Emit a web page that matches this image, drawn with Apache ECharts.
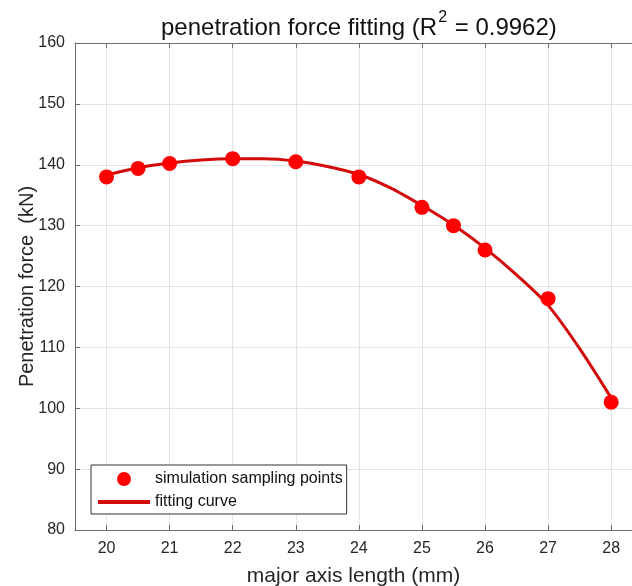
<!DOCTYPE html>
<html>
<head>
<meta charset="utf-8">
<script src="https://cdn.jsdelivr.net/npm/echarts@6/dist/echarts.min.js"></script>
<style>
    html, body { margin: 0; padding: 0; background: #fff; }
    #chart { width: 632px; height: 586px; }
</style>
</head>
<body>
<div id="chart"></div>
<script>
// simulation sampling points
const sampleX = [20, 20.5, 21, 22, 23, 24, 25, 25.5, 26, 27, 28];
const sampleY = [138, 139.4, 140.2, 141, 140.5, 138, 133, 130, 126, 118, 101];

// fitting curve
const fitX = [20, 20.5, 21, 21.5, 22, 22.5, 23, 23.5, 24, 24.5, 25, 25.5, 26, 26.5, 27, 27.5, 28];
const fitY = [138.3, 139.5, 140.3, 140.8, 141.0, 141.0, 140.6, 139.7, 138.4, 136.2, 133.3, 130.1, 126.3, 121.9, 116.9, 109.8, 101.7];

const xTicks = [20, 21, 22, 23, 24, 25, 26, 27, 28];

const chart = echarts.init(document.getElementById('chart'));

const axisColor = '#6e6e6e';
const labelColor = '#262626';
const font = 'Liberation Sans, Arial, sans-serif';

const option = {
    backgroundColor: '#fff',
    animation: false,
    title: {
        text: '{t|penetration force fitting (R}{s|2}{t| = 0.9962)}',
        left: 156,
        top: 5,
        textStyle: {
            rich: {
                t: { fontSize: 24, color: '#111', fontFamily: font, fontWeight: 'normal', verticalAlign: 'bottom', lineHeight: 30 },
                s: { fontSize: 16, color: '#111', fontFamily: font, fontWeight: 'normal', verticalAlign: 'top', lineHeight: 30, padding: [0, 1, 12, 1] }
            }
        }
    },
    grid: {
        left: 75,
        right: 0,
        top: 43,
        bottom: 56,
        outerBoundsMode: 'none'
    },
    legend: {
        orient: 'vertical',
        left: 91,
        top: 465,
        padding: [6, 4, 4, 5],
        itemGap: 7,
        itemWidth: 52,
        itemHeight: 14,
        backgroundColor: '#fff',
        borderColor: '#333',
        borderWidth: 1,
        borderRadius: 0,
        textStyle: { fontSize: 16, color: '#111', fontFamily: font },
        data: [
            { name: 'simulation sampling points' },
            { name: 'fitting curve', itemStyle: { opacity: 0 }, lineStyle: { width: 4 } }
        ]
    },
    xAxis: [
        {
            type: 'value',
            min: 19.5,
            max: 28.33,
            name: 'major axis length (mm)',
            nameLocation: 'middle',
            nameGap: 36,
            nameTextStyle: { fontSize: 21, color: labelColor, fontFamily: font },
            axisLine: { show: true, lineStyle: { color: axisColor } },
            axisTick: { show: true, inside: true, length: 5, customValues: xTicks, lineStyle: { color: axisColor } },
            axisLabel: { customValues: xTicks, fontSize: 16, color: labelColor, fontFamily: font, margin: 11 },
            splitLine: { show: true, lineStyle: { color: '#e3e3e3' } }
        },
        {
            type: 'value',
            position: 'top',
            min: 19.5,
            max: 28.33,
            axisLine: { show: true, onZero: false, lineStyle: { color: axisColor } },
            axisTick: { show: true, inside: true, length: 5, customValues: xTicks, lineStyle: { color: axisColor } },
            axisLabel: { show: false },
            splitLine: { show: false }
        }
    ],
    yAxis: {
        type: 'value',
        min: 80,
        max: 160,
        interval: 10,
        name: 'Penetration force  (kN)',
        nameLocation: 'middle',
        nameGap: 38,
        nameMoveOverlap: false,
        nameTextStyle: { fontSize: 20, color: labelColor, fontFamily: font },
        axisLine: { show: true, lineStyle: { color: axisColor } },
        axisTick: { show: true, inside: true, length: 5, lineStyle: { color: axisColor } },
        axisLabel: { fontSize: 16, color: labelColor, fontFamily: font, margin: 10 },
        splitLine: { show: true, lineStyle: { color: '#e3e3e3' } }
    },
    series: [
        {
            name: 'fitting curve',
            type: 'line',
            smooth: 0.3,
            symbol: 'none',
            data: fitX.map((x, i) => [x, fitY[i]]),
            lineStyle: { color: '#d20a0a', width: 3 },
            itemStyle: { color: '#d20a0a' },
            z: 2
        },
        {
            name: 'simulation sampling points',
            type: 'scatter',
            symbol: 'circle',
            symbolSize: 15,
            data: sampleX.map((x, i) => [x, sampleY[i]]),
            itemStyle: { color: '#ff0000', opacity: 1 },
            z: 3
        }
    ]
};

chart.setOption(option);
</script>
</body>
</html>
